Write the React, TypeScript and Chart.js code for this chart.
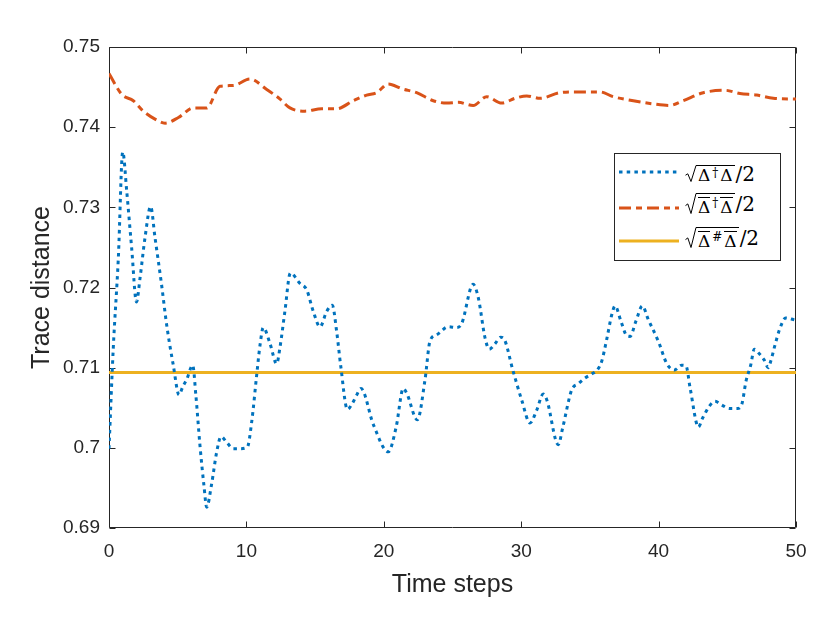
import { Chart, registerables } from "chart.js"
import React, { useEffect, useRef } from "react"

Chart.register(...registerables)

// sqrt(Δ†Δ)/2  — dotted blue
const blueX = [
  0, 0.31, 0.68, 1.0, 1.29, 1.65, 2.0, 2.26, 2.62, 3.03, 3.35, 3.83, 4.2, 4.68, 5.1, 5.36, 5.65, 6.09,
  6.33, 6.62, 6.91, 7.11, 7.47, 7.84, 8.15, 8.56, 9.05, 9.53, 10.07, 10.39, 10.75, 10.99, 11.23, 11.72,
  12.2, 12.45, 12.8, 13.2, 13.9, 14.39, 14.87, 15.36, 15.84, 16.25, 16.57, 16.86, 17.35, 17.73, 18.0,
  18.34, 19.24, 20.33, 20.9, 21.42, 21.67, 22.44, 23.0, 23.36, 23.85, 24.7, 25.3, 25.67, 26.5, 26.88,
  27.37, 27.68, 28.1, 28.5, 28.7, 29.42, 30.03, 30.64, 31.13, 31.6, 31.86, 32.7, 33.02, 33.67, 34.16,
  34.64, 35.13, 35.57, 35.86, 36.22, 36.59, 36.83, 37.26, 37.68, 37.92, 38.35, 38.82, 39.25, 39.98,
  40.6, 41.15, 41.68, 42.0, 42.3, 42.9, 43.2, 43.74, 44.1, 44.64, 45.15, 45.73, 46.05, 46.36, 46.7,
  46.97, 47.3, 47.67, 47.98, 48.16, 48.47, 48.79, 49.25, 49.8, 50,
]
const blueY = [
  0.6999, 0.7124, 0.7237, 0.7369, 0.732, 0.7249, 0.7182, 0.7212, 0.7262, 0.7301, 0.7262, 0.7203, 0.7153,
  0.7103, 0.7066, 0.7076, 0.7085, 0.7103, 0.7064, 0.7003, 0.6953, 0.6926, 0.6955, 0.6995, 0.7014, 0.7007,
  0.6999, 0.6999, 0.7001, 0.7033, 0.7091, 0.7128, 0.715, 0.713, 0.7105, 0.7126, 0.717, 0.7218, 0.7205,
  0.7197, 0.717, 0.7151, 0.717, 0.7178, 0.7145, 0.7103, 0.7048, 0.7056, 0.7065, 0.7074, 0.7029, 0.6995,
  0.7026, 0.7074, 0.7068, 0.7035, 0.7085, 0.7133, 0.7141, 0.7151, 0.715, 0.7155, 0.7204, 0.7187, 0.7137,
  0.7123, 0.713, 0.7138, 0.7137, 0.7095, 0.706, 0.7031, 0.7047, 0.7067, 0.706, 0.7004, 0.7025, 0.7072,
  0.708, 0.7087, 0.7092, 0.7098, 0.7108, 0.7135, 0.7166, 0.7177, 0.7158, 0.714, 0.7139, 0.7158, 0.7177,
  0.716, 0.7133, 0.7105, 0.7097, 0.7103, 0.7102, 0.7074, 0.7026, 0.7037, 0.7053, 0.7058, 0.7053, 0.7049,
  0.7049, 0.7054, 0.7083, 0.7103, 0.7123, 0.7118, 0.711, 0.71, 0.7108, 0.7128, 0.7147, 0.7162, 0.716,
  0.7159,
]

// sqrt(Δ̄†Δ̄)/2 — dash-dot orange
const orangeX = [
  0, 0.92, 1.77, 2.5, 3.35, 4.08, 5.05, 6.14, 7.11, 8.08, 9.05, 10.26, 11.48, 12.45, 13.17, 14.26, 15.48,
  16.57, 17.78, 18.75, 19.48, 20.33, 21.3, 22.39, 23.6, 24.58, 25.42, 26.5, 27.49, 28.58, 29.55, 30.4,
  31.37, 32.82, 34.04, 35.73, 36.7, 38.16, 39.62, 40.78, 41.8, 43.25, 44.83, 45.92, 47.14, 48.35, 50,
]
const orangeY = [
  0.7467, 0.7441, 0.7433, 0.742, 0.741, 0.7405, 0.7412, 0.7424, 0.7424, 0.7451, 0.7452, 0.746, 0.7447,
  0.7435, 0.7424, 0.742, 0.7423, 0.7423, 0.7433, 0.744, 0.7443, 0.7454, 0.7448, 0.7443, 0.7433, 0.743,
  0.7431, 0.7427, 0.7438, 0.743, 0.7436, 0.7439, 0.7436, 0.7443, 0.7444, 0.7444, 0.7438, 0.7433, 0.7429,
  0.7427, 0.7433, 0.7443, 0.7446, 0.7442, 0.744, 0.7436, 0.7435,
]

// sqrt(Δ̄#Δ̄)/2 — solid yellow
const yellowX = [0, 50]
const yellowY = [0.7094, 0.7094]

const seriesNames = ["√(Δ†Δ)/2", "√(Δ̄†Δ̄)/2", "√(Δ̄#Δ̄)/2"]
const xTicks = [0, 10, 20, 30, 40, 50]
const xTickLabels = ["0", "10", "20", "30", "40", "50"]
const yTicks = [0.69, 0.7, 0.71, 0.72, 0.73, 0.74, 0.75]
const yTickLabels = ["0.69", "0.7", "0.71", "0.72", "0.73", "0.74", "0.75"]

const BLUE = "#0072BD"
const ORANGE = "#D95319"
const YELLOW = "#EDB120"
const AXIS = "#262626"

const toPoints = (xs: number[], ys: number[]) => xs.map((x, i) => ({ x, y: ys[i] }))

// MATLAB style box with inward ticks on all four sides
const boxPlugin = {
  id: "boxPlugin",
  beforeDatasetsDraw(chart: any) {
    const { ctx, chartArea: a, scales } = chart
    const L = Math.round(a.left) + 0.5
    const R = Math.round(a.right) - 0.5
    const T = Math.round(a.top) + 0.5
    const B = Math.round(a.bottom) - 0.5
    const len = 6
    ctx.save()
    ctx.strokeStyle = AXIS
    ctx.lineWidth = 1
    ctx.beginPath()
    ctx.rect(L, T, R - L, B - T)
    scales.x.ticks.forEach((t: any) => {
      const px = Math.round(scales.x.getPixelForValue(t.value)) + 0.5
      ctx.moveTo(px, B)
      ctx.lineTo(px, B - len)
      ctx.moveTo(px, T)
      ctx.lineTo(px, T + len)
    })
    scales.y.ticks.forEach((t: any) => {
      const py = Math.round(scales.y.getPixelForValue(t.value)) + 0.5
      ctx.moveTo(L, py)
      ctx.lineTo(L + len, py)
      ctx.moveTo(R, py)
      ctx.lineTo(R - len, py)
    })
    ctx.stroke()
    ctx.restore()
  },
}

const mathFont: React.CSSProperties = {
  fontFamily: "'DejaVu Serif', serif",
  fontSize: 17,
  color: "#000",
}

const Delta: React.FC<{ bar: boolean }> = ({ bar }) =>
  bar ? (
    <span style={{ display: "inline-block", borderTop: "1px solid #000", paddingTop: 2, lineHeight: "14px" }}>Δ</span>
  ) : (
    <span style={{ display: "inline-block", lineHeight: "14px" }}>Δ</span>
  )

const MathLabel: React.FC<{ bar: boolean; sup: string; h: number }> = ({ bar, sup, h }) => (
  <span style={{ display: "inline-flex", alignItems: "flex-start", ...mathFont }}>
    <svg width={12} height={h} style={{ display: "block" }}>
      <path
        d={`M0.5 ${h * 0.6} L2.8 ${h * 0.52} L6 ${h - 0.5} L11 0.5 L12 0.5`}
        fill="none"
        stroke="#000"
        strokeWidth={1}
      />
    </svg>
    <span
      style={{
        display: "inline-flex",
        alignItems: "flex-end",
        height: h - 1,
        borderTop: "1px solid #000",
        paddingLeft: 1,
        paddingRight: 2,
      }}
    >
      <Delta bar={bar} />
      <span style={{ fontSize: 12, lineHeight: "12px", alignSelf: "flex-start", marginTop: bar ? 3 : 1, padding: "0 2px" }}>
        {sup}
      </span>
      <Delta bar={bar} />
    </span>
    <span style={{ fontSize: 20, lineHeight: `${h}px`, marginTop: 1, marginLeft: 1 }}>/2</span>
  </span>
)

const legendRows = [
  { color: BLUE, dash: "3.5 4.2", center: 19, mathTop: 11, bar: false, sup: "†", h: 17 },
  { color: ORANGE, dash: "12 5 6 5", center: 55, mathTop: 39, bar: true, sup: "†", h: 21 },
  { color: YELLOW, dash: "", center: 88, mathTop: 73, bar: true, sup: "#", h: 21 },
]

const App: React.FC = () => {
  const canvasRef = useRef<HTMLCanvasElement>(null)

  useEffect(() => {
    const ctx = canvasRef.current?.getContext("2d")
    if (!ctx) return

    const tickFont = { family: "'Liberation Sans', Arial, sans-serif", size: 19 }
    const titleFont = { family: "'Liberation Sans', Arial, sans-serif", size: 25 }

    const chart = new Chart(ctx, {
      type: "line",
      data: {
        datasets: [
          {
            label: seriesNames[0],
            data: toPoints(blueX, blueY),
            borderColor: BLUE,
            borderWidth: 3,
            borderDash: [3.5, 4.2],
            pointRadius: 0,
            cubicInterpolationMode: "monotone",
          },
          {
            label: seriesNames[1],
            data: toPoints(orangeX, orangeY),
            borderColor: ORANGE,
            borderWidth: 3,
            borderDash: [12, 5, 6, 5],
            pointRadius: 0,
            cubicInterpolationMode: "monotone",
          },
          {
            label: seriesNames[2],
            data: toPoints(yellowX, yellowY),
            borderColor: YELLOW,
            borderWidth: 3,
            pointRadius: 0,
          },
        ],
      },
      options: {
        animation: false,
        responsive: false,
        layout: { padding: { top: 47, right: 44, left: 0, bottom: 0 } },
        plugins: { legend: { display: false }, tooltip: { enabled: false } },
        scales: {
          x: {
            type: "linear",
            min: 0,
            max: 50,
            afterBuildTicks: (s: any) => {
              s.ticks = xTicks.map((value) => ({ value }))
            },
            afterFit: (s: any) => {
              s.height = 102
            },
            grid: { display: false },
            border: { display: false },
            ticks: {
              padding: 4,
              color: AXIS,
              font: tickFont,
              maxRotation: 0,
              autoSkip: false,
              callback: (_v: any, i: number) => xTickLabels[i],
            },
            title: {
              display: true,
              text: "Time steps",
              color: AXIS,
              font: titleFont,
              padding: { top: 0, bottom: 30 },
            },
          },
          y: {
            type: "linear",
            min: 0.69,
            max: 0.75,
            afterBuildTicks: (s: any) => {
              s.ticks = yTicks.map((value) => ({ value }))
            },
            afterFit: (s: any) => {
              s.width = 109
            },
            grid: { display: false },
            border: { display: false },
            ticks: {
              padding: 1,
              color: AXIS,
              font: tickFont,
              autoSkip: false,
              callback: (_v: any, i: number) => yTickLabels[i],
            },
            title: {
              display: true,
              text: "Trace distance",
              color: AXIS,
              font: titleFont,
              padding: { top: 27, bottom: 0 },
            },
          },
        },
      },
      plugins: [boxPlugin],
    })

    return () => {
      chart.destroy()
    }
  }, [])

  return (
    <div style={{ position: "absolute", left: 0, top: 0, width: 840, height: 630, background: "#fff" }}>
      <canvas ref={canvasRef} width={840} height={630} style={{ display: "block", width: 840, height: 630 }} />
      <div
        style={{
          position: "absolute",
          left: 614,
          top: 153,
          width: 167,
          height: 108,
          boxSizing: "border-box",
          border: `1px solid ${AXIS}`,
          background: "#fff",
        }}
      >
        {legendRows.map((r, i) => (
          <React.Fragment key={i}>
            <svg
              width={60}
              height={6}
              style={{ position: "absolute", left: 4, top: r.center - 4, display: "block" }}
            >
              <line x1={0} y1={3} x2={60} y2={3} stroke={r.color} strokeWidth={3} strokeDasharray={r.dash || undefined} />
            </svg>
            <div style={{ position: "absolute", left: 70, top: r.mathTop }} title={seriesNames[i]}>
              <MathLabel bar={r.bar} sup={r.sup} h={r.h} />
            </div>
          </React.Fragment>
        ))}
      </div>
    </div>
  )
}

export default App
